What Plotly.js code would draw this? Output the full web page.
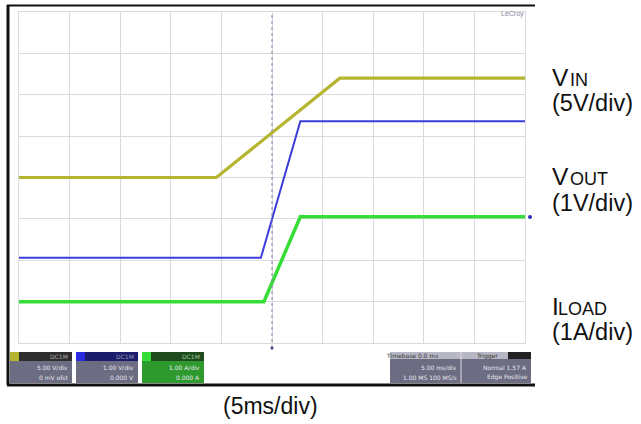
<!DOCTYPE html>
<html>
<head>
<meta charset="utf-8">
<script src="https://cdn.plot.ly/plotly-3.0.1.min.js"></script>
<style>html,body{margin:0;padding:0;background:#fff;}#chart{width:641px;height:424px;}</style>
</head>
<body>
<div id="chart"></div>
<script>
// time in ms (5 ms/div, trigger at 0)
const timeVin = [-25, -5.5, 6.7, 25];
const vin = [0, 0, 12, 12];          // V (5 V/div)
const timeVout = [-25, -1.1, 2.8, 25];
const vout = [0, 0, 3.3, 3.3];       // V (1 V/div)
const timeIload = [-25, -0.8, 2.8, 25];
const iload = [0, 0, 2.05, 2.05];    // A (1 A/div)
const labelMain = ["V", "V", "I"];
const labelSub = ["IN", "OUT", "LOAD"];
const labelDiv = ["(5V/div)", "(1V/div)", "(1A/div)"];
const timeLabel = "(5ms/div)";

const L = 19, R = 116, T = 12, B = 81, W = 641, H = 424;
const pw = W - L - R, ph = H - T - B;
const px = x => (x - L) / pw;
const py = y => (H - B - y) / ph;
const FONT = 'Liberation Sans, Arial, sans-serif';

const traces = [
  {x: timeVin, y: vin, type: 'scatter', mode: 'lines', yaxis: 'y', line: {color: '#b5b530', width: 3.2}, hoverinfo: 'skip'},
  {x: timeVout, y: vout, type: 'scatter', mode: 'lines', yaxis: 'y2', line: {color: '#3c3cdc', width: 2}, hoverinfo: 'skip'},
  {x: timeIload, y: iload, type: 'scatter', mode: 'lines', yaxis: 'y3', line: {color: '#36dd36', width: 3.5}, hoverinfo: 'skip'}
];

const shapes = [];
// outer scope frame (left, top, bottom)
const frame = {color: '#111', width: 3};
shapes.push({type: 'line', xref: 'paper', yref: 'paper', x0: px(8), x1: px(8), y0: py(385), y1: py(5), line: frame});
shapes.push({type: 'line', xref: 'paper', yref: 'paper', x0: px(7), x1: px(535), y0: py(5.5), y1: py(5.5), line: {color: '#111', width: 2}});
shapes.push({type: 'line', xref: 'paper', yref: 'paper', x0: px(7), x1: px(535), y0: py(385), y1: py(385), line: frame});
// center horizontal dotted line
shapes.push({type: 'line', xref: 'paper', yref: 'paper', x0: 0, x1: 1, y0: 0.5, y1: 0.5, line: {color: '#b8b8c0', width: 1, dash: 'dot'}, layer: 'below'});
// trigger line
shapes.push({type: 'line', xref: 'x', yref: 'paper', x0: 0, x1: 0, y0: py(348), y1: 1, line: {color: '#8080b0', width: 1, dash: 'dot'}});
shapes.push({type: 'circle', xref: 'paper', yref: 'paper', x0: px(270.5), x1: px(273.5), y0: py(349.5), y1: py(346.5), fillcolor: '#404080', line: {width: 0}});
// right-side blue marker
shapes.push({type: 'circle', xref: 'paper', yref: 'paper', x0: px(528), x1: px(532), y0: py(219), y1: py(215), fillcolor: '#3030c0', line: {width: 0}});
// bottom info boxes
function box(x0, x1, body, sq, head) {
  shapes.push({type: 'rect', xref: 'paper', yref: 'paper', x0: px(x0), x1: px(x1), y0: py(383), y1: py(352), fillcolor: body, line: {width: 0}});
  shapes.push({type: 'rect', xref: 'paper', yref: 'paper', x0: px(x0), x1: px(x1), y0: py(361), y1: py(352), fillcolor: head, line: {width: 0}});
  shapes.push({type: 'rect', xref: 'paper', yref: 'paper', x0: px(x0), x1: px(x0 + 9), y0: py(361), y1: py(352), fillcolor: sq, line: {width: 0}});
}
box(10, 72, '#6c6c82', '#b5b530', '#2e2e2e');
box(76, 138, '#6c6c82', '#2a2ae0', '#1c1c6c');
box(142, 204, '#2e9a2e', '#36dd36', '#1e4a1e');
shapes.push({type: 'rect', xref: 'paper', yref: 'paper', x0: px(390), x1: px(531), y0: py(383), y1: py(352), fillcolor: '#6c6c82', line: {width: 0}});
shapes.push({type: 'rect', xref: 'paper', yref: 'paper', x0: px(390), x1: px(531), y0: py(359), y1: py(352), fillcolor: '#b8b8c4', line: {width: 0}});
shapes.push({type: 'rect', xref: 'paper', yref: 'paper', x0: px(508), x1: px(531), y0: py(359), y1: py(352), fillcolor: '#222', line: {width: 0}});
shapes.push({type: 'line', xref: 'paper', yref: 'paper', x0: px(461), x1: px(461), y0: py(383), y1: py(352), line: {color: '#ddd', width: 1}});

const annotations = [];
function ann(x, y, t, size, xanchor, color) {
  annotations.push({xref: 'paper', yref: 'paper', x: px(x), y: py(y), xanchor: xanchor || 'left', yanchor: 'middle', showarrow: false, text: t, borderpad: 0, font: {family: FONT, size: size, color: color || '#111'}});
}
const mainY = [77.5, 176.5, 306.5];
const subX = [569, 569, 557];
const divY = [102.5, 203, 331.5];
labelMain.forEach((t, i) => {
  ann(551, mainY[i], t, 24.5);
  ann(subX[i], mainY[i] + 2, labelSub[i], 18);
  ann(551, divY[i], labelDiv[i], 23.5);
});
ann(270.5, 406, timeLabel, 23, 'center');
ann(512, 14, 'LeCroy', 7, 'center', '#8a8aa0');
function tiny(x, y, t, c) { annotations.push({xref: 'paper', yref: 'paper', x: px(x), y: py(y), xanchor: 'right', yanchor: 'middle', showarrow: false, text: t, font: {family: 'DejaVu Sans, sans-serif', size: 6, color: c || '#e8e8f0'}}); }
tiny(70, 356.5, 'DC1M', '#aaa'); tiny(70, 367, '5.00 V/div'); tiny(70, 377, '0 mV ofst');
tiny(136, 356.5, 'DC1M', '#99a'); tiny(136, 367, '1.00 V/div'); tiny(136, 377, '0.000 V');
tiny(202, 356.5, 'DC1M', '#9c9'); tiny(202, 367, '1.00 A/div'); tiny(202, 377, '0.000 A');
tiny(440, 355.5, 'Timebase 0.0 ms', '#333'); tiny(459, 367, '5.00 ms/div'); tiny(459, 377, '1.00 MS 100 MS/s');
tiny(500, 355.5, 'Trigger', '#333'); tiny(529, 367, 'Normal 1.57 A'); tiny(529, 377, 'Edge Positive');

const gridCol = '#d9d9de';
const layout = {
  width: W, height: H,
  margin: {l: L, r: R, t: T, b: B, pad: 0},
  paper_bgcolor: '#ffffff', plot_bgcolor: '#ffffff',
  showlegend: false,
  xaxis: {range: [-25, 25], dtick: 5, tick0: 0, showgrid: true, gridcolor: gridCol, gridwidth: 1, zeroline: false, showticklabels: false, ticks: '', showline: true, mirror: true, linecolor: gridCol, fixedrange: true},
  yaxis: {range: [-20, 20], dtick: 5, tick0: 0, showgrid: true, gridcolor: gridCol, gridwidth: 1, zeroline: false, showticklabels: false, ticks: '', showline: true, mirror: true, linecolor: gridCol, fixedrange: true},
  yaxis2: {range: [-2.06, 5.94], overlaying: 'y', showgrid: false, zeroline: false, showticklabels: false, ticks: '', showline: false, fixedrange: true},
  yaxis3: {range: [-1.0, 7.0], overlaying: 'y', showgrid: false, zeroline: false, showticklabels: false, ticks: '', showline: false, fixedrange: true},
  shapes: shapes,
  annotations: annotations
};
Plotly.newPlot('chart', traces, layout, {staticPlot: true, displayModeBar: false});
</script>
</body>
</html>
